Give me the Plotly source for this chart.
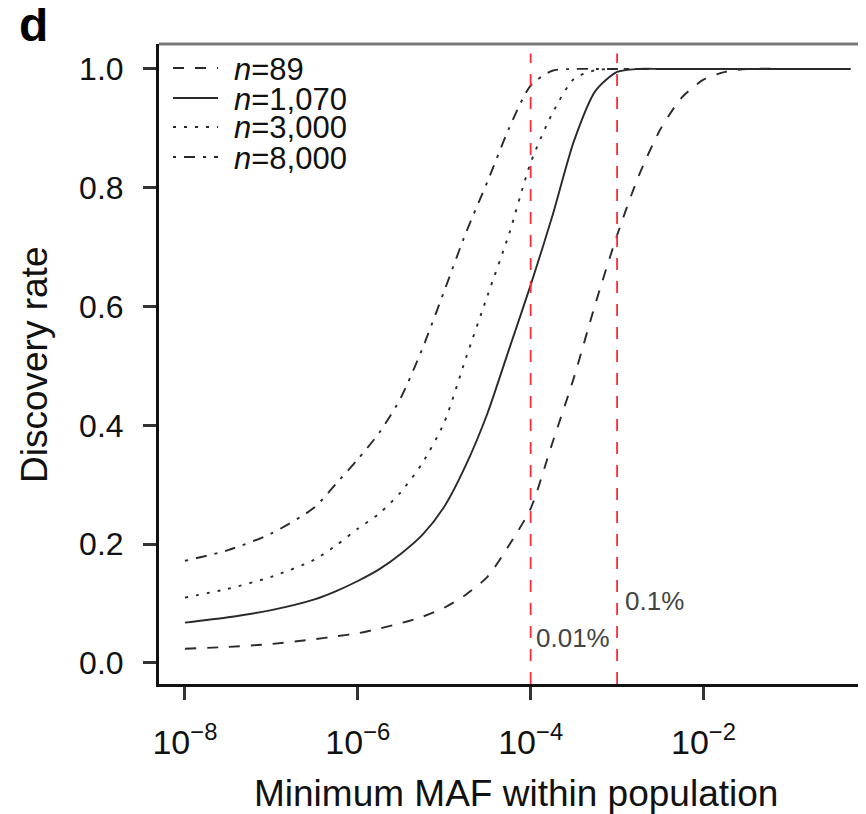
import plotly.graph_objects as go

# ---- data ----
maf = [1e-8, 3.16e-8, 1e-7, 3.16e-7, 5.62e-7, 1e-6, 1.78e-6, 3.16e-6, 5.62e-6, 1e-5, 1.78e-5, 3.16e-5,
       5.62e-5, 1e-4, 1.78e-4, 3.16e-4, 5.62e-4, 1e-3, 1.78e-3, 3.16e-3, 5.62e-3,
       1e-2, 1.78e-2, 3.16e-2, 0.1, 0.5]

rate_n89 = [0.024, 0.027, 0.032, 0.040, 0.045, 0.050, 0.058, 0.067, 0.078, 0.093, 0.115, 0.145,
            0.198, 0.260, 0.370, 0.480, 0.605, 0.720, 0.820, 0.898, 0.952,
            0.982, 0.995, 1.0, 1.0, 1.0]
rate_n1070 = [0.068, 0.077, 0.089, 0.107, 0.121, 0.138, 0.158, 0.184, 0.216, 0.263, 0.333, 0.420,
              0.528, 0.636, 0.752, 0.878, 0.963, 0.995, 1.0, 1.0, 1.0,
              1.0, 1.0, 1.0, 1.0, 1.0]
rate_n3000 = [0.110, 0.125, 0.145, 0.174, 0.198, 0.226, 0.252, 0.288, 0.337, 0.405, 0.513, 0.618,
              0.722, 0.842, 0.925, 0.983, 0.998, 1.0, 1.0, 1.0, 1.0,
              1.0, 1.0, 1.0, 1.0, 1.0]
rate_n8000 = [0.172, 0.190, 0.218, 0.262, 0.302, 0.343, 0.388, 0.447, 0.530, 0.626, 0.724, 0.810,
              0.900, 0.972, 0.997, 1.0, 1.0, 1.0, 1.0, 1.0, 1.0,
              1.0, 1.0, 1.0, 1.0, 1.0]

series_names = ["<i>n</i>=89", "<i>n</i>=1,070", "<i>n</i>=3,000", "<i>n</i>=8,000"]
series_values = [rate_n89, rate_n1070, rate_n3000, rate_n8000]
series_dash = ["11px,11px", "solid", "3px,8px", "3px,8px,11px,8px"]

threshold_maf = [1e-4, 1e-3]
threshold_labels = ["0.01%", "0.1%"]

x_tickvals = [1e-8, 1e-6, 1e-4, 1e-2]
x_ticktext = ["10<sup>\u22128</sup>", "10<sup>\u22126</sup>", "10<sup>\u22124</sup>", "10<sup>\u22122</sup>"]
y_tickvals = [0.0, 0.2, 0.4, 0.6, 0.8, 1.0]
y_ticktext = ["0.0", "0.2", "0.4", "0.6", "0.8", "1.0"]

# ---- layout geometry (page pixels; the page body has an 8px margin) ----
OFF = 8
W, H = 866 - OFF, 814 - OFF
PLOT_LEFT, PLOT_TOP, PLOT_BOTTOM = 159, 44, 684   # in page pixels
L_M = PLOT_LEFT - OFF
T_M = PLOT_TOP - OFF
B_M = H - (PLOT_BOTTOM - OFF)
R_M = 0
PW = W - L_M - R_M
PH = H - T_M - B_M


def px_x(px):
    return (px - PLOT_LEFT) / PW


def px_y(py):
    return (PLOT_BOTTOM - py) / PH


FONT = "Liberation Sans, Arial, Helvetica, sans-serif"
LINE_COLOR = "#2a2a2a"

fig = go.Figure()
for name, vals, dash in zip(series_names, series_values, series_dash):
    fig.add_trace(go.Scatter(
        x=maf, y=vals, mode="lines", name=name, showlegend=False,
        line=dict(color=LINE_COLOR, width=1.9, dash=dash, shape="spline", smoothing=0.7),
    ))

shapes = []
annotations = []

# threshold lines
for m in threshold_maf:
    shapes.append(dict(type="line", xref="x", yref="paper", x0=m, x1=m, y0=0, y1=0.985,
                       line=dict(color="#ff2a3a", width=1.8, dash="12px,11px")))
annotations.append(dict(text=threshold_labels[0], x=px_x(534), y=px_y(638), xref="paper", yref="paper",
                        xanchor="left", yanchor="middle", showarrow=False,
                        font=dict(family=FONT, size=26, color="#444")))
annotations.append(dict(text=threshold_labels[1], x=px_x(623), y=px_y(601), xref="paper", yref="paper",
                        xanchor="left", yanchor="middle", showarrow=False,
                        font=dict(family=FONT, size=26, color="#444")))

# top border (grey)
shapes.append(dict(type="line", xref="paper", yref="paper", x0=0, x1=1, y0=1, y1=1,
                   line=dict(color="#7a7a7a", width=3)))

# legend (manual)
leg_rows = [68, 98, 127, 157]
for name, dash, ry in zip(series_names, series_dash, leg_rows):
    shapes.append(dict(type="line", xref="paper", yref="paper",
                       x0=px_x(173), x1=px_x(218), y0=px_y(ry), y1=px_y(ry),
                       line=dict(color=LINE_COLOR, width=1.9, dash=dash)))
    annotations.append(dict(text=name, x=px_x(232), y=px_y(ry + 1), xref="paper", yref="paper",
                            xanchor="left", yanchor="middle", showarrow=False,
                            font=dict(family=FONT, size=31, color="#111")))

# axis titles
annotations.append(dict(text="Minimum MAF within population", x=px_x(516), y=px_y(793),
                        xref="paper", yref="paper", xanchor="center", yanchor="middle",
                        showarrow=False, font=dict(family=FONT, size=37, color="#111")))
annotations.append(dict(text="Discovery rate", x=px_x(34), y=px_y(365), textangle=-90,
                        xref="paper", yref="paper", xanchor="center", yanchor="middle",
                        showarrow=False, font=dict(family=FONT, size=37, color="#111")))
# panel letter
annotations.append(dict(text="<b>d</b>", x=px_x(33), y=px_y(24), xref="paper", yref="paper",
                        xanchor="center", yanchor="middle", showarrow=False,
                        font=dict(family=FONT, size=48, color="#000")))

fig.update_layout(
    width=W, height=H,
    margin=dict(l=L_M, r=R_M, t=T_M, b=B_M, pad=0),
    paper_bgcolor="white", plot_bgcolor="white",
    showlegend=False,
    shapes=shapes, annotations=annotations,
    font=dict(family=FONT, color="#111"),
)
fig.update_xaxes(
    type="log", range=[-8.30, -0.12],
    tickmode="array", tickvals=x_tickvals, ticktext=x_ticktext,
    showgrid=False, zeroline=False,
    showline=True, linecolor="#111", linewidth=3, mirror=False,
    ticks="outside", ticklen=13, tickwidth=2.5, tickcolor="#333",
    tickfont=dict(family=FONT, size=34, color="#111"),
    ticklabelstandoff=13,
)
fig.update_yaxes(
    range=[-0.0354, 1.042],
    tickmode="array", tickvals=y_tickvals, ticktext=y_ticktext,
    showgrid=False, zeroline=False,
    showline=True, linecolor="#111", linewidth=3, mirror=False,
    ticks="outside", ticklen=13, tickwidth=2.5, tickcolor="#333",
    tickfont=dict(family=FONT, size=32, color="#111"),
    ticklabelstandoff=13,
)

fig.write_html("out.html")
